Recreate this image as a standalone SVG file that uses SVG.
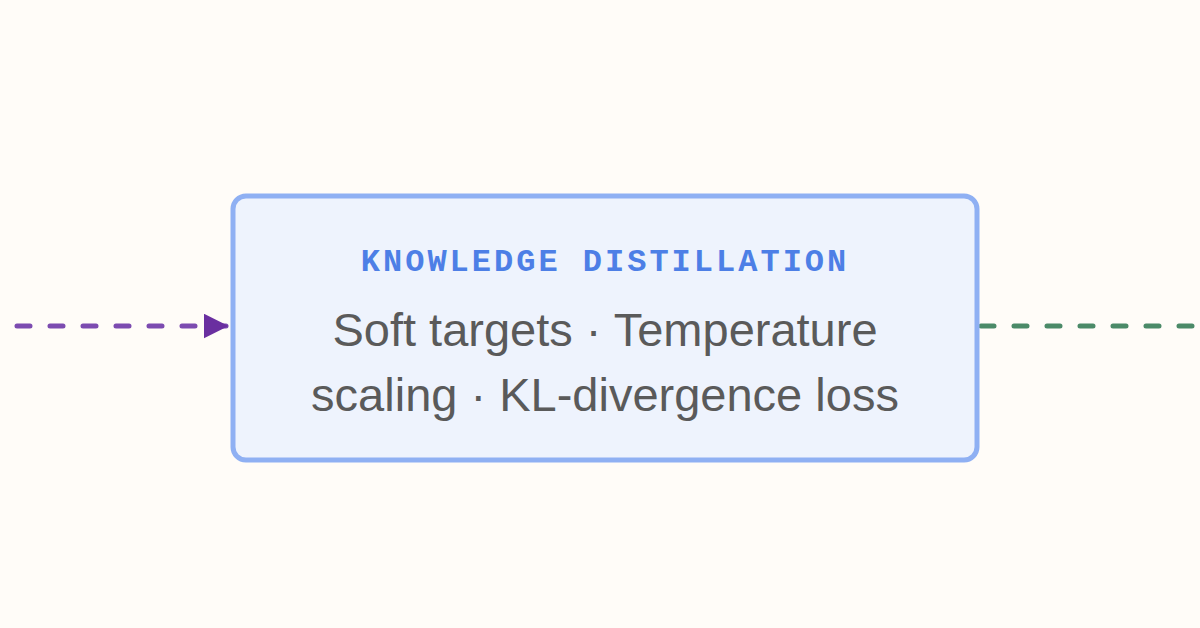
<svg xmlns="http://www.w3.org/2000/svg" width="1200" height="628" viewBox="0 0 1200 628">
<style>
.bg{fill:#fffcf8}
.box{fill:#eef3fd;stroke:#8fb0f3;stroke-width:5}
.title{font-family:"Liberation Mono","DejaVu Sans Mono",monospace;font-size:32px;font-weight:bold;fill:#4d7fe6;letter-spacing:3px}
.body{font-family:"Liberation Sans",Arial,sans-serif;font-size:47px;fill:#5a5a5a}
.in{stroke:#7c4bb0;stroke-width:5;fill:none;stroke-dasharray:13 20;stroke-linecap:round}
.out{stroke:#4b8a68;stroke-width:5;fill:none;stroke-dasharray:13 20;stroke-linecap:round}
</style>
<defs>
<marker id="arrP" viewBox="0 0 10 10" refX="9" refY="5" markerWidth="5" markerHeight="5" orient="auto" markerUnits="strokeWidth">
<path d="M0,0 L10,5 L0,10 z" fill="#6a2fa0"/>
</marker>
</defs>
<rect class="bg" x="0" y="0" width="1200" height="628"/>
<g id="connectors">
<path class="in" d="M17,326 L226,326" marker-end="url(#arrP)"/>
<path class="out" d="M981,326 L1200,326"/>
</g>
<g id="node-kd">
<rect class="box" x="233" y="196" width="744" height="264" rx="13"/>
<text class="title" x="605" y="271" text-anchor="middle">KNOWLEDGE DISTILLATION</text>
<text class="body" x="605" y="346" text-anchor="middle">Soft targets · Temperature</text>
<text class="body" x="605" y="411" text-anchor="middle">scaling · KL-divergence loss</text>
</g>
</svg>
